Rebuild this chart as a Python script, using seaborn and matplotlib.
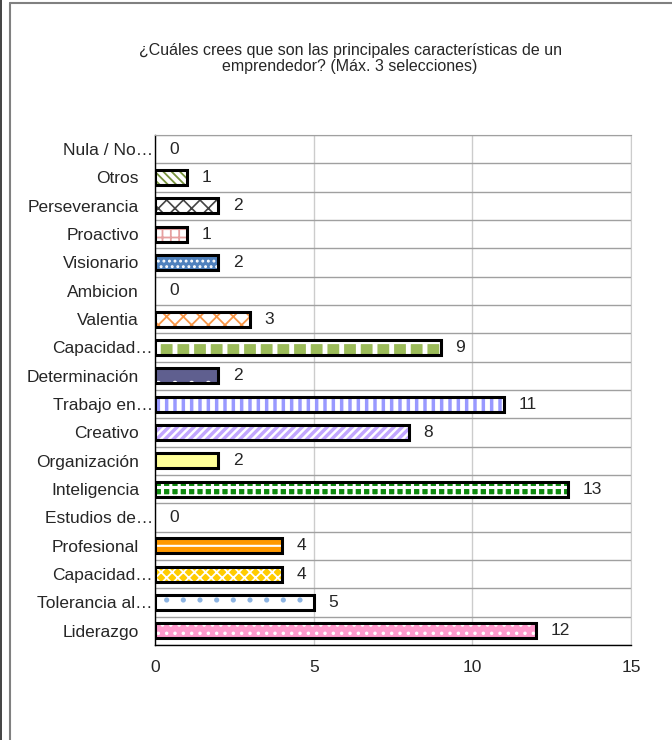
"""
Gráfico de barras horizontales: características de un emprendedor.
"""
import numpy as np
import pandas as pd
import matplotlib
matplotlib.use('Agg')
import matplotlib.pyplot as plt
from matplotlib.lines import Line2D
from matplotlib.ticker import MultipleLocator
from matplotlib.transforms import ScaledTranslation
import seaborn as sns

# Datos
categorias = ['Nula / No…', 'Otros', 'Perseverancia', 'Proactivo', 'Visionario',
              'Ambicion', 'Valentia', 'Capacidad…', 'Determinación', 'Trabajo en…',
              'Creativo', 'Organización', 'Inteligencia', 'Estudios de…',
              'Profesional', 'Capacidad…', 'Tolerancia al…', 'Liderazgo']
valores = [0, 1, 2, 1, 2, 0, 3, 9, 2, 11, 8, 2, 13, 0, 4, 4, 5, 12]

# Estilo de cada barra (relleno, trama, color y grosor de trama)
relleno = ['#FFFFFF', '#FFFFFF', '#FFFFFF', '#FFFFFF', '#4F81BD',
           '#FFFFFF', '#FFFFFF', '#9BBB59', '#5F5F8F', '#9999FF',
           '#C2A6FF', '#FFFF99', '#0E8A0E', '#FFFFFF',
           '#FF9900', '#FFCC00', '#FFFFFF', '#FF99CC']
tramas = ['', '\\\\\\\\', 'xx', '++', '...',
          '', 'xx', '+', '.', '||',
          '////', '', '++', '',
          '--', 'xxx', '.', '..']
color_trama = ['#FFFFFF', '#77933C', '#444444', '#E6A0A0', '#FFFFFF',
               '#FFFFFF', '#F79646', '#FFFFFF', '#FFFFFF', '#FFFFFF',
               '#FFFFFF', '#FFFF99', '#FFFFFF', '#FFFFFF',
               '#FFFFFF', '#FFFFFF', '#8DB4E2', '#FFFFFF']
grosor_trama = [1, 1.3, 1.2, 1.3, 1.3,
                1, 1.3, 3.5, 1.3, 3.5,
                1.8, 1, 2.2, 1,
                1.5, 1.3, 1.3, 1.3]

titulo = '¿Cuáles crees que son las principales características de un\nemprendedor? (Máx. 3 selecciones)'

ids = [str(i) for i in range(len(categorias))]
df = pd.DataFrame({'id': ids, 'valor': valores})

sns.set_style('white')
plt.rcParams['font.family'] = ['Liberation Sans', 'DejaVu Sans']
plt.rcParams['hatch.linewidth'] = 1.3

fig = plt.figure(figsize=(6.72, 7.4), dpi=100)
ax = fig.add_axes([0.2307, 0.1284, 0.939 - 0.2307, 0.8176 - 0.1284])

# Capa 1: relleno + trama
sns.barplot(data=df, x='valor', y='id', hue='id', order=ids, hue_order=ids,
            palette=dict(zip(ids, relleno)), legend=False, width=0.52,
            linewidth=0, saturation=1, ax=ax)
for cont, h, hc, hw in zip(ax.containers, tramas, color_trama, grosor_trama):
    for bar in cont:
        bar.set_hatch(h)
        bar.set_edgecolor(hc)
        bar.set_linewidth(0)
        if hasattr(bar, 'set_hatch_linewidth'):
            bar.set_hatch_linewidth(hw)
        else:
            bar._hatch_linewidth = hw

# Capa 2: contorno negro
sns.barplot(data=df, x='valor', y='id', order=ids, fill=False, color='black',
            width=0.52, linewidth=2, ax=ax)
contorno = ax.containers[-1]
for bar, v in zip(contorno, valores):
    bar.set_edgecolor('black')
    bar.set_linewidth(2.2 if v > 0 else 0)
ax.bar_label(contorno, labels=[str(v) for v in valores], padding=10.5, fontsize=12.5)

# Ejes
ax.set_xlim(0, 15)
ax.set_ylim(17.5, -0.5)
ax.xaxis.set_major_locator(MultipleLocator(5))
ax.set_yticks(range(len(categorias)))
ax.set_yticklabels(categorias)
ax.set_yticks(np.arange(-0.5, len(categorias), 1), minor=True)
ax.set_xlabel('')
ax.set_ylabel('')

ax.tick_params(axis='y', which='major', length=0, pad=11.5, labelsize=12.5)
ax.tick_params(axis='y', which='minor', length=4, width=1, color='black', direction='out')
ax.tick_params(axis='x', which='major', length=4, width=1, color='black',
               direction='out', pad=7, labelsize=12.5)

ax.grid(axis='y', which='minor', color='#A0A0A0', linewidth=1)
ax.grid(axis='x', which='major', color='#CCCCCC', linewidth=1)
ax.set_axisbelow(True)

for lado in ['left', 'bottom']:
    ax.spines[lado].set_color('black')
    ax.spines[lado].set_linewidth(1)
ax.spines['top'].set_color('#A0A0A0')
ax.spines['right'].set_color('#CCCCCC')

# Etiquetas truncadas pegadas al eje
desplazar = ScaledTranslation(10 / 72, 0, fig.dpi_scale_trans)
for lbl in ax.get_yticklabels():
    if lbl.get_text().endswith('…'):
        lbl.set_transform(lbl.get_transform() + desplazar)

# Título
fig.text(0.521, 0.921, titulo, ha='center', va='center', fontsize=11.5,
         linespacing=1.1, multialignment='center')

# Marco del área del gráfico
fig.add_artist(Line2D([0.0022, 0.0022], [0, 1], transform=fig.transFigure,
                      color='#222222', linewidth=1.2))
fig.add_artist(Line2D([0.0149, 0.0149], [0, 0.996], transform=fig.transFigure,
                      color='#808080', linewidth=1.5))
fig.add_artist(Line2D([0.0149, 1], [0.996, 0.996], transform=fig.transFigure,
                      color='#808080', linewidth=1.5))

plt.savefig('out.png', dpi=100)
plt.close()
